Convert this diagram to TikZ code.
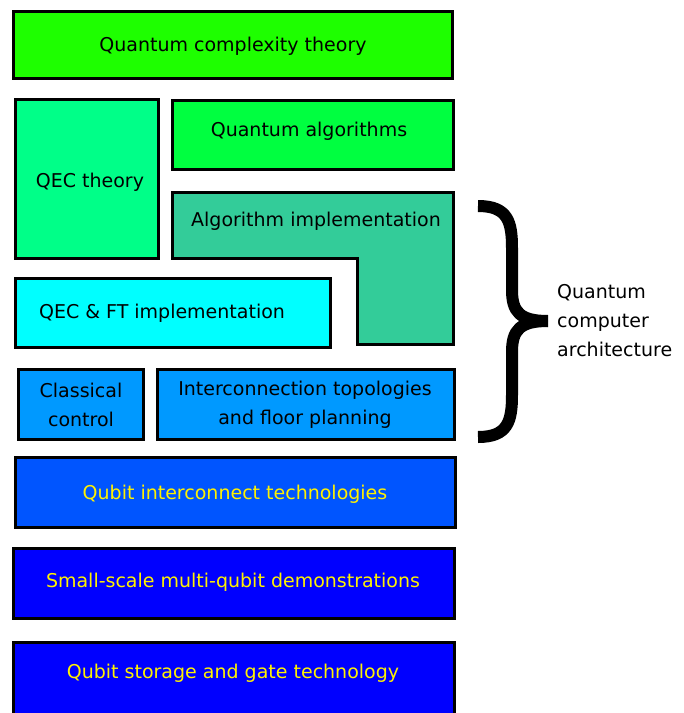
\documentclass[tikz,border=0pt]{standalone}
\usepackage{fontspec}
\setmainfont{DejaVu Sans}
\begin{document}
\begin{tikzpicture}[x=1pt,y=-1pt,
  blk/.style={draw=black,line width=3pt,inner sep=0pt,anchor=north west},
  lbl/.style={font=\fontsize{19}{29}\selectfont,align=center,inner sep=0pt},
  ylbl/.style={lbl,text=yellow},
]
\definecolor{cQCT}{HTML}{1EFF00}
\definecolor{cQA}{HTML}{00FF40}
\definecolor{cQEC}{HTML}{00FF88}
\definecolor{cAI}{HTML}{33CC99}
\definecolor{cFT}{HTML}{00FFFF}
\definecolor{cCC}{HTML}{0099FF}
\definecolor{cQI}{HTML}{0055FF}
\definecolor{cQB}{HTML}{0000FF}
\useasboundingbox[fill=white] (0,0) rectangle (684,713);

\node[blk,fill=cQCT,minimum width=439pt,minimum height=67pt] (qct) at (12,10) {};
\node[lbl] (qctt) at (233,46) {Quantum complexity theory};

\node[blk,fill=cQEC,minimum width=143pt,minimum height=159pt] (qec) at (14,98) {};
\node[lbl] (qect) at (90,182) {QEC theory};

\node[blk,fill=cQA,minimum width=281pt,minimum height=69pt] (qa) at (171,99) {};
\node[lbl] (qat) at (309,131) {Quantum algorithms};

\draw[line width=3pt,fill=cAI,line join=miter] (172.5,192.5) -- (453.5,192.5) -- (453.5,344.5) -- (357,344.5) -- (357,258.5) -- (172.5,258.5) -- cycle;
\node[lbl] (ait) at (316,221) {Algorithm implementation};

\node[blk,fill=cFT,minimum width=315pt,minimum height=69pt] (ft) at (14,277) {};
\node[lbl] (ftt) at (162,313) {QEC \& FT implementation};

\node[blk,fill=cCC,minimum width=125pt,minimum height=70pt] (cc) at (17,368) {};
\node[lbl] (cct) at (81,405) {Classical\\control};

\node[blk,fill=cCC,minimum width=297pt,minimum height=70pt] (ic) at (156,368) {};
\node[lbl] (ict) at (305,405) {Interconnection topologies\\and floor planning};

\node[blk,fill=cQI,minimum width=440pt,minimum height=70pt] (qi) at (14,456) {};
\node[ylbl] (qit) at (235,494) {Qubit interconnect technologies};

\node[blk,fill=cQB,minimum width=441pt,minimum height=70pt] (ss) at (12,547) {};
\node[ylbl] (sst) at (233,582) {Small-scale multi-qubit demonstrations};

\node[blk,fill=cQB,minimum width=441pt,minimum height=77pt] (qs) at (12,641) {};
\node[ylbl] (qst) at (233,673) {Qubit storage and gate technology};

% brace
\draw[line width=12pt,line cap=butt] (478,206) .. controls (508,206) and (512,222) .. (512,248) -- (512,290) .. controls (512,312) and (520,321) .. (548,321);
\draw[line width=12pt,line cap=butt] (548,321) .. controls (520,321) and (512,330) .. (512,352) -- (512,395) .. controls (512,421) and (508,437) .. (478,437);

\node[lbl,align=left,anchor=west] (qca) at (557,321) {Quantum\\computer\\architecture};
\end{tikzpicture}
\end{document}
